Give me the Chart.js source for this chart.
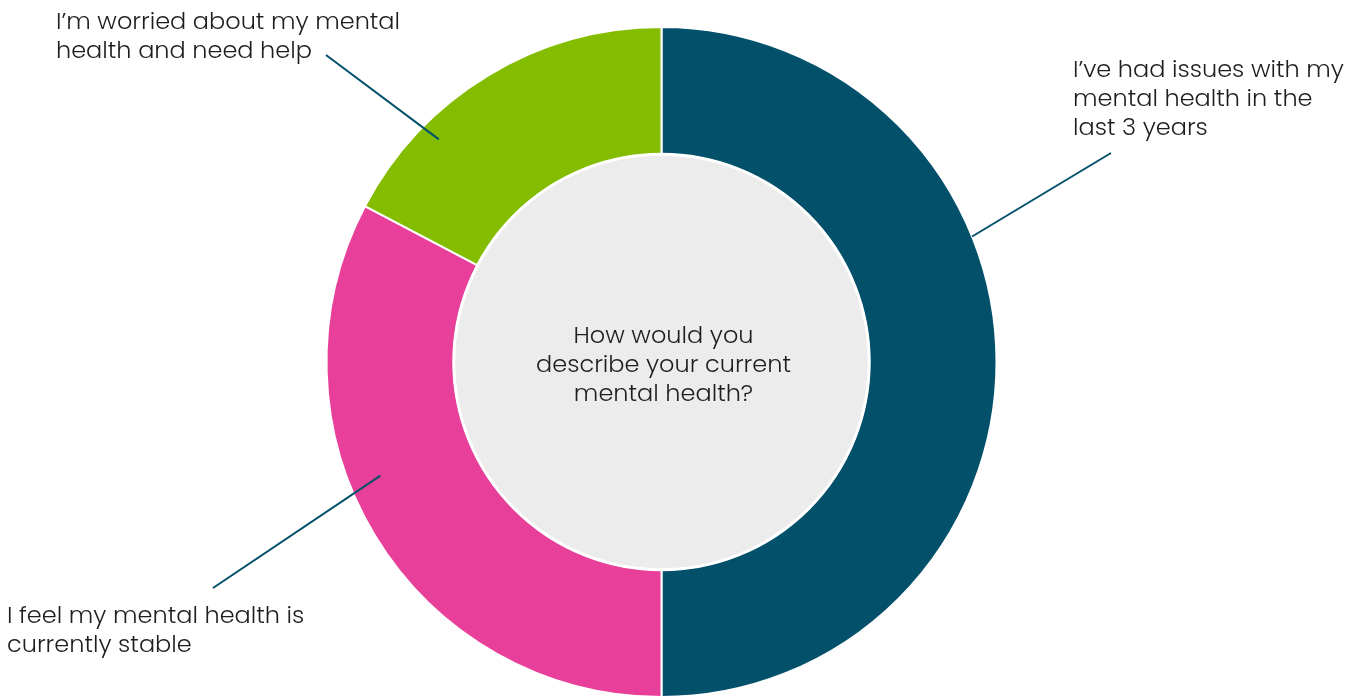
<!DOCTYPE html>
<html>
<head>
<meta charset="utf-8">
<script src="https://cdn.jsdelivr.net/npm/chart.js@4/dist/chart.umd.min.js"></script>
<style>
  html, body { margin: 0; padding: 0; background: #ffffff; }
  #wrap { width: 1357px; height: 698px; position: relative; }
</style>
</head>
<body>
<div id="wrap"><canvas id="mentalHealth"></canvas></div>
<script>
// survey answers, clockwise from 12 o'clock
const categories = [
  ['I\u2019ve had issues with my', 'mental health in the', 'last 3 years'],
  ['I feel my mental health is', 'currently stable'],
  ['I\u2019m worried about my mental', 'health and need help']
];
const shares = [50, 32.7, 17.3];
const sliceColors = ['#03506b', '#e8409a', '#84bd00'];
const centerQuestion = ['How would you', 'describe your current', 'mental health?'];

const FONT = '300 24px Poppins, Inter, "Open Sans", sans-serif';
const TEXT = '#1e1e1e';
const LEADER = '#03506b';

// where each callout sits: text block origin, line elbow and where it touches the ring
// (angle in degrees clockwise from top, radius as fraction of outer radius)
const callouts = [
  { x: 1073, y: 77, from: [1111, 153], angle: 68, r: 1.0 },
  { x: 7, y: 623, from: [213, 588], angle: 248, r: 0.905 },
  { x: 56, y: 29, from: [326, 55], angle: 315, r: 0.94 }
];

const calloutPlugin = {
  id: 'callouts',
  beforeDatasetsDraw(chart) {
    const arc = chart.getDatasetMeta(0).data[0];
    if (!arc) return;
    const { ctx } = chart;
    ctx.save();
    ctx.beginPath();
    ctx.arc(arc.x, arc.y, arc.innerRadius, 0, Math.PI * 2);
    ctx.fillStyle = '#ececec';
    ctx.fill();
    ctx.restore();
  },
  afterDatasetsDraw(chart) {
    const meta = chart.getDatasetMeta(0);
    const arc = meta.data[0];
    if (!arc) return;
    const { ctx } = chart;
    ctx.save();

    // white ring around the centre disc
    ctx.beginPath();
    ctx.arc(arc.x, arc.y, arc.innerRadius, 0, Math.PI * 2);
    ctx.strokeStyle = '#ffffff';
    ctx.lineWidth = 3;
    ctx.stroke();

    ctx.font = FONT;
    ctx.fillStyle = TEXT;
    ctx.textBaseline = 'alphabetic';

    ctx.textAlign = 'center';
    centerQuestion.forEach((line, i) => ctx.fillText(line, arc.x + 2, 343 + i * 29));

    ctx.textAlign = 'left';
    callouts.forEach((c, idx) => {
      categories[idx].forEach((line, i) => ctx.fillText(line, c.x, c.y + i * 29));
      const a = c.angle * Math.PI / 180;
      const rr = arc.outerRadius * c.r;
      ctx.beginPath();
      ctx.moveTo(c.from[0], c.from[1]);
      ctx.lineTo(arc.x + Math.sin(a) * rr, arc.y - Math.cos(a) * rr);
      ctx.strokeStyle = LEADER;
      ctx.lineWidth = 2;
      ctx.stroke();
    });
    ctx.restore();
  }
};

new Chart(document.getElementById('mentalHealth'), {
  type: 'doughnut',
  data: {
    labels: categories.map(c => c.join(' ')),
    datasets: [{
      data: shares,
      backgroundColor: sliceColors,
      borderColor: '#ffffff',
      borderWidth: 2
    }]
  },
  options: {
    responsive: true,
    maintainAspectRatio: false,
    animation: false,
    cutout: '62%',
    layout: { padding: { top: 26, bottom: 0, left: 0, right: 34 } },
    plugins: {
      legend: { display: false },
      tooltip: { enabled: false }
    }
  },
  plugins: [calloutPlugin]
});
</script>
</body>
</html>
